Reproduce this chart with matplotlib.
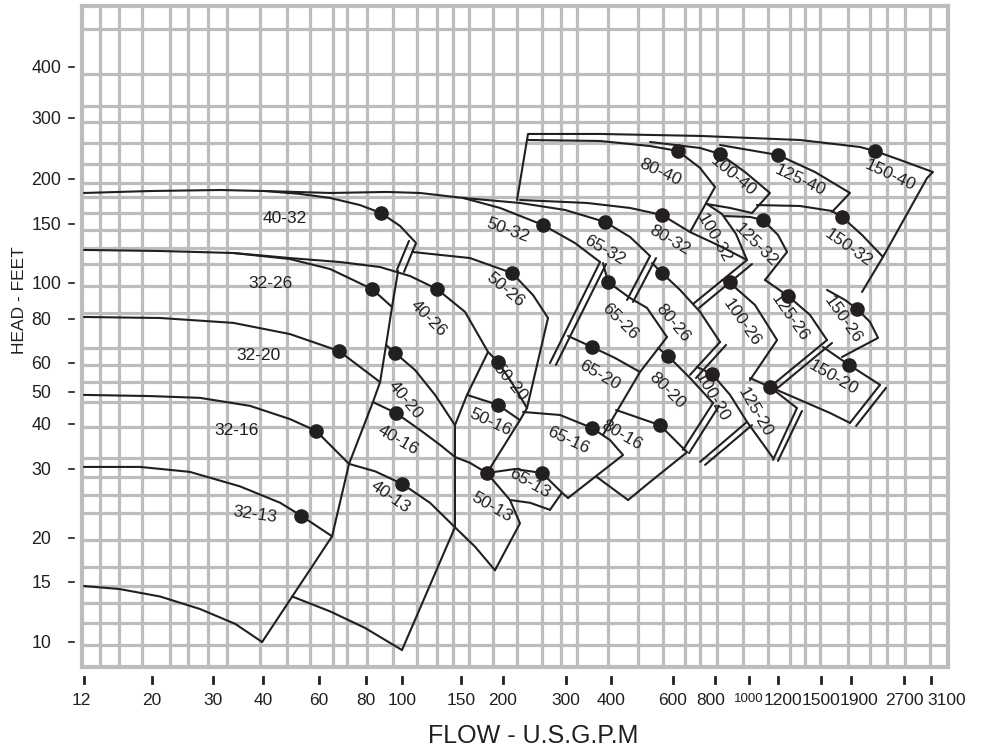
import numpy as np
import matplotlib
matplotlib.use("Agg")
import matplotlib.pyplot as plt
from matplotlib.transforms import blended_transform_factory, ScaledTranslation
from matplotlib.ticker import NullLocator

plt.rcParams['font.family'] = ['Liberation Sans', 'DejaVu Sans']

# ---------------- axis ticks ----------------
flow_ticks = [12, 20, 30, 40, 60, 80, 100, 150, 200, 300, 400, 600, 800,
              1000, 1200, 1500, 1900, 2700, 3100]
head_ticks = [10, 15, 20, 30, 40, 50, 60, 80, 100, 150, 200, 300, 400]

# ---------------- pump curves (flow USGPM, head ft) ----------------
# 32 / 40 series
q_32_13_bot = [12, 15.7, 21.1, 27.5, 34.1, 39.8]
h_32_13_bot = [14.6, 14.3, 13.6, 12.5, 11.3, 10.0]
q_32_13_top = [12, 18.3, 25.7, 35.0, 45.3, 52.7, 65.0]
h_32_13_top = [30.4, 30.4, 29.5, 27.1, 24.6, 22.8, 20.2]
q_32_16_top = [12, 19.7, 27.5, 37.1, 48.6, 58.7, 72.1]
h_32_16_top = [49.0, 48.6, 48.0, 45.4, 41.4, 38.3, 31.0]
q_32_20_top = [12, 21.1, 33.7, 48.6, 67.8, 87.3]
h_32_20_top = [81.0, 80.5, 78.0, 72.5, 64.9, 53.2]
q_32_26_top = [12, 21.1, 33.7, 48.6, 64.2, 83.1, 94.0]
h_32_26_top = [125.5, 124.6, 122.9, 117.9, 110.1, 96.3, 86.2]
q_40_26_top = [33.7, 48.6, 68.2, 87.3, 105.7, 127.2, 154.2, 180.5]
h_40_26_top = [122.9, 118.7, 115.5, 111.6, 104.9, 96.3, 83.6, 64.5]
q_40_32_top = [12, 19.7, 31.2, 40.6, 52.3, 64.2, 77.1, 87.8, 98.8, 109.4]
h_40_32_top = [182.9, 185.2, 186.4, 185.2, 181.8, 177.2, 169.3, 160.9, 148.0, 132.6]
q_32_edge = [39.8, 65.0, 72.1, 83.5, 87.3, 90.6, 94.0, 97.6]
h_32_edge = [10.0, 20.2, 31.0, 46.6, 53.2, 67.5, 86.2, 108.6]
q_40_32_edge_a = [104.9, 96.9]
h_40_32_edge_a = [133.5, 109.4]
q_40_32_edge_b = [110.1, 101.4]
h_40_32_edge_b = [131.6, 107.9]
q_40_20_top = [90.6, 95.8, 109.4, 125.5, 143.9]
h_40_20_top = [67.5, 64.1, 57.4, 49.0, 39.7]
q_40_16_top = [83.5, 96.3, 113.2, 129.9, 143.9]
h_40_16_top = [46.6, 43.2, 38.5, 35.0, 32.4]
q_40_13_top = [72.1, 84.6, 100, 121.2, 143.9]
h_40_13_top = [31.0, 29.6, 27.5, 24.6, 21.3]
q_40_13_bot = [49.4, 64.2, 79.5, 100]
h_40_13_bot = [13.6, 12.3, 11.0, 9.47]
q_40_edge = [100, 143.9, 143.9, 156.3, 180.5]
h_40_edge = [9.47, 21.3, 39.7, 49.0, 64.5]
# 50 series
q_50_20_top = [180.5, 193.3, 212.0, 233.4]
h_50_20_top = [64.5, 60.4, 52.9, 44.7]
q_50_26_top = [107.1, 159.5, 212.0, 242.6, 267.2]
h_50_26_top = [123.8, 118.7, 107.1, 92.8, 80.5]
q_50_edge = [267.2, 233.4, 223.1, 179.2]
h_50_edge = [80.5, 44.7, 41.1, 29.3]
q_50_16_top = [156.3, 193.3, 223.1]
h_50_16_top = [49.0, 45.7, 41.1]
q_50_13_top = [143.9, 159.5, 179.2]
h_50_13_top = [32.4, 31.2, 29.3]
q_50_13_side = [179.2, 209.2, 223.1, 189.3]
h_50_13_side = [29.3, 25.0, 21.8, 16.2]
q_50_13_bot = [143.9, 165.1, 189.3]
h_50_13_bot = [21.3, 18.9, 16.2]
q_50_32_top = [40.6, 64.2, 91.1, 113.2, 152.1, 196.0, 258.7, 317.8, 372.9]
h_50_32_top = [185.2, 182.9, 184.1, 182.9, 177.2, 166.2, 149.0, 131.6, 115.5]
q_50_32_edge_a = [372.9, 270.6]
h_50_32_edge_a = [115.5, 60.0]
q_50_32_edge_b = [387.5, 281.2]
h_50_32_edge_b = [113.9, 59.3]
# 65 series
q_65_13_top = [179.2, 216.1, 257.0, 292.4, 303.9]
h_65_13_top = [29.3, 30.0, 29.3, 26.1, 25.3]
q_65_13_side = [292.4, 270.6]
h_65_13_side = [26.1, 23.6]
q_65_13_bot = [209.2, 238.0, 270.6]
h_65_13_bot = [25.0, 24.6, 23.6]
q_65_16_top = [227.5, 288.6, 354.3, 397.5, 432.8, 303.9]
h_65_16_top = [43.5, 42.6, 39.0, 36.1, 32.8, 25.3]
q_65_20_top = [303.9, 354.3, 410.7, 483.6]
h_65_20_top = [71.6, 66.6, 62.0, 56.7]
q_65_26_top = [380.1, 392.5, 453.1, 506.1, 576.9]
h_65_26_top = [114.7, 100.7, 91.1, 85.7, 71.1]
q_65_edge = [576.9, 483.6, 380.1]
h_65_edge = [71.1, 56.7, 37.3]
q_65_32_top = [152.1, 223.1, 298.1, 385.0, 453.1, 516.4]
h_65_32_top = [177.2, 171.6, 164.1, 152.0, 137.2, 120.4]
q_65_32_edge_a = [516.4, 444.2]
h_65_32_edge_a = [120.4, 90.0]
q_65_32_edge_b = [537.0, 461.9]
h_65_32_edge_b = [118.7, 88.9]
# 80 series
q_80_40_top = [234.9, 372.9, 516.4, 621.0, 722.2, 800, 674.3]
h_80_40_top = [259.2, 257.5, 249.0, 240.9, 215.2, 190.0, 141.9]
q_80_32_top = [223.1, 343.1, 453.1, 558.4, 674.3, 826.8, 987.0]
h_80_32_top = [174.9, 171.6, 166.2, 158.9, 141.9, 128.9, 117.1]
q_80_32_edge_a = [987.0, 688.3]
h_80_32_edge_a = [117.1, 87.8]
q_80_32_edge_b = [1019, 717.2]
h_80_32_edge_b = [113.9, 85.7]
q_80_26_top = [523.1, 558.4, 629.6, 722.2, 826.8]
h_80_26_top = [114.7, 107.1, 95.8, 83.6, 68.8]
q_80_26_edge_a = [826.8, 674.3]
h_80_26_edge_a = [68.8, 55.7]
q_80_26_edge_b = [860.1, 702.5]
h_80_26_edge_b = [67.5, 54.6]
q_80_20_top = [543.9, 580.7, 674.3, 789.3]
h_80_20_top = [66.2, 62.8, 54.6, 46.3]
q_80_20_edge_a = [789.3, 642.6]
h_80_20_edge_a = [46.3, 33.9]
q_80_20_edge_b = [821.3, 669.6]
h_80_20_edge_b = [45.4, 33.2]
q_80_16_top = [413.4, 551.1, 660.5, 516.4, 447.2]
h_80_16_top = [44.1, 39.7, 33.4, 27.8, 25.0]
q_80_16_bot = [365.8, 447.2]
h_80_16_bot = [28.6, 25.0]
# 100 series
q_100_40_top = [516.4, 722.2, 826.8, 974.1, 1141, 1019]
h_100_40_top = [255.8, 245.8, 236.2, 209.5, 182.9, 160.9]
q_100_40_bot = [757.6, 883.2, 1019]
h_100_40_bot = [170.4, 166.2, 160.9]
q_100_32_top = [757.6, 837.6, 918.3, 987.0]
h_100_32_top = [170.4, 159.9, 140.0, 117.1]
q_100_26_top = [837.6, 883.2, 1038, 1193, 1006]
h_100_26_top = [102.1, 100, 87.3, 69.7, 53.9]
q_100_20_top = [707.4, 784.0, 883.2, 987.0]
h_100_20_top = [58.5, 56.0, 49.0, 40.6]
q_100_20_edge_a = [987.0, 722.2]
h_100_20_edge_a = [40.6, 31.4]
q_100_20_edge_b = [1019, 747.4]
h_100_20_edge_b = [39.7, 30.8]
# 125 series
q_125_40_top = [826.8, 1200, 1454, 1885, 1636]
h_125_40_top = [250.7, 234.6, 209.5, 182.9, 162.0]
q_125_32_top = [854.4, 1006, 1092, 1200, 1258, 1106]
h_125_32_top = [157.8, 156.9, 153.9, 139.1, 123.8, 102.1]
q_125_26_top = [1106, 1264, 1417, 1573]
h_125_26_top = [102.1, 92.3, 82.0, 69.7]
q_125_26_edge_a = [1573, 1141]
h_125_26_edge_a = [69.7, 51.6]
q_125_26_edge_b = [1636, 1178]
h_125_26_edge_b = [68.4, 50.6]
q_125_20_top = [1006, 1141, 1324]
h_125_20_top = [54.6, 51.6, 44.7]
q_125_20_edge_a = [1324, 1163]
h_125_20_edge_a = [44.7, 31.8]
q_125_20_edge_b = [1359, 1200]
h_125_20_edge_b = [43.8, 31.6]
q_125_20_bot = [987.0, 1163]
h_125_20_bot = [40.6, 32.2]
# 150 series
q_x40_outer = [218.9, 234.9, 372.9, 722.2, 1345, 2017, 2228, 2630, 3131, 3038, 2349, 2044]
h_x40_outer = [174.9, 269.8, 269.8, 266.3, 259.2, 247.4, 240.9, 227.0, 209.5, 201.3, 119.6, 94.6]
q_150_32_top = [1051, 1345, 1636, 1770, 2044, 2349]
h_150_32_top = [169.3, 168.3, 163.0, 156.9, 139.1, 119.6]
q_150_26_top = [1573, 1813, 1978, 2155, 2273, 1770]
h_150_26_top = [95.8, 90.0, 85.1, 78.5, 70.7, 62.4]
q_150_20_top = [1524, 1870, 2303]
h_150_20_top = [66.6, 59.3, 52.3]
q_150_20_edge_a = [2303, 1885]
h_150_20_edge_a = [52.3, 40.3]
q_150_20_edge_b = [2396, 1965]
h_150_20_edge_b = [51.3, 39.5]
q_150_20_bot = [1141, 1345, 1610, 1885]
h_150_20_bot = [51.6, 47.3, 43.2, 40.3]

# best efficiency points
dot_q = [52.7, 58.7, 67.8, 83.1, 87.8, 100, 96.3, 95.8, 127.2, 179.2, 193.3,
         193.3, 212.0, 258.7, 257.0, 354.3, 354.3, 392.5, 385.0, 551.1, 580.7,
         558.4, 558.4, 621.0, 784.0, 883.2, 826.8, 1141, 1264, 1092, 1200,
         1870, 1978, 1770, 2228]
dot_h = [22.8, 38.3, 64.9, 96.3, 160.9, 27.5, 43.2, 64.1, 96.3, 29.3, 45.7,
         60.4, 107.1, 149.0, 29.3, 39.0, 66.6, 100.7, 152.0, 39.7, 62.8,
         107.1, 158.9, 240.9, 56.0, 100.7, 236.2, 51.6, 92.3, 153.9, 234.6,
         59.3, 85.1, 156.9, 240.9]

# pump model labels
label_text = ["32-13", "32-16", "32-20", "32-26", "40-32", "40-13", "40-16",
              "40-20", "40-26", "50-13", "50-16", "50-20", "50-26", "50-32",
              "65-13", "65-16", "65-20", "65-26", "65-32", "80-16", "80-20",
              "80-26", "80-32", "80-40", "100-20", "100-26", "100-32", "100-40",
              "125-20", "125-26", "125-32", "125-40", "150-20", "150-26",
              "150-32", "150-40"]
label_q = [38.2, 34.4, 38.9, 42.1, 46.9, 92.8, 97.6, 102.1, 119.6, 185.5,
           183.0, 209.2, 202.6, 206.5, 238.0, 303.9, 372.9, 424.4, 385.0,
           429.9, 576.9, 600, 588.6, 551.1, 784.0, 955.2, 794.5, 900.7, 1038,
           1277, 1045, 1345, 1649, 1784, 1856, 2461]
label_h = [23.0, 38.3, 63.2, 99.4, 155.8, 25.4, 36.1, 47.3, 80.5, 23.9, 40.6,
           53.2, 95.8, 144.0, 27.6, 36.1, 55.7, 78.5, 125.5, 37.3, 50.6, 78.0,
           134.4, 209.5, 48.3, 78.0, 136.3, 204.0, 43.5, 80.5, 129.9, 198.8,
           54.6, 79.5, 127.2, 205.3]
label_rot = [-8, 0, 0, 0, 0, -35, -30, -50, -45, -30, -25, -50, -40, -20, -30,
             -25, -30, -45, -30, -30, -45, -50, -30, -25, -60, -55, -60, -40,
             -60, -55, -45, -25, -30, -55, -35, -25]

curves = [
    (q_32_13_bot, h_32_13_bot), (q_32_13_top, h_32_13_top),
    (q_32_16_top, h_32_16_top), (q_32_20_top, h_32_20_top),
    (q_32_26_top, h_32_26_top), (q_40_26_top, h_40_26_top),
    (q_40_32_top, h_40_32_top), (q_32_edge, h_32_edge),
    (q_40_32_edge_a, h_40_32_edge_a), (q_40_32_edge_b, h_40_32_edge_b),
    (q_40_20_top, h_40_20_top), (q_40_16_top, h_40_16_top),
    (q_40_13_top, h_40_13_top), (q_40_13_bot, h_40_13_bot),
    (q_40_edge, h_40_edge),
    (q_50_20_top, h_50_20_top), (q_50_26_top, h_50_26_top),
    (q_50_edge, h_50_edge), (q_50_16_top, h_50_16_top),
    (q_50_13_top, h_50_13_top), (q_50_13_side, h_50_13_side),
    (q_50_13_bot, h_50_13_bot), (q_50_32_top, h_50_32_top),
    (q_50_32_edge_a, h_50_32_edge_a), (q_50_32_edge_b, h_50_32_edge_b),
    (q_65_13_top, h_65_13_top), (q_65_13_side, h_65_13_side),
    (q_65_13_bot, h_65_13_bot), (q_65_16_top, h_65_16_top),
    (q_65_20_top, h_65_20_top), (q_65_26_top, h_65_26_top),
    (q_65_edge, h_65_edge), (q_65_32_top, h_65_32_top),
    (q_65_32_edge_a, h_65_32_edge_a), (q_65_32_edge_b, h_65_32_edge_b),
    (q_80_40_top, h_80_40_top), (q_80_32_top, h_80_32_top),
    (q_80_32_edge_a, h_80_32_edge_a), (q_80_32_edge_b, h_80_32_edge_b),
    (q_80_26_top, h_80_26_top), (q_80_26_edge_a, h_80_26_edge_a),
    (q_80_26_edge_b, h_80_26_edge_b), (q_80_20_top, h_80_20_top),
    (q_80_20_edge_a, h_80_20_edge_a), (q_80_20_edge_b, h_80_20_edge_b),
    (q_80_16_top, h_80_16_top), (q_80_16_bot, h_80_16_bot),
    (q_100_40_top, h_100_40_top), (q_100_40_bot, h_100_40_bot),
    (q_100_32_top, h_100_32_top), (q_100_26_top, h_100_26_top),
    (q_100_20_top, h_100_20_top), (q_100_20_edge_a, h_100_20_edge_a),
    (q_100_20_edge_b, h_100_20_edge_b),
    (q_125_40_top, h_125_40_top), (q_125_32_top, h_125_32_top),
    (q_125_26_top, h_125_26_top), (q_125_26_edge_a, h_125_26_edge_a),
    (q_125_26_edge_b, h_125_26_edge_b), (q_125_20_top, h_125_20_top),
    (q_125_20_edge_a, h_125_20_edge_a), (q_125_20_edge_b, h_125_20_edge_b),
    (q_125_20_bot, h_125_20_bot),
    (q_x40_outer, h_x40_outer), (q_150_32_top, h_150_32_top),
    (q_150_26_top, h_150_26_top), (q_150_20_top, h_150_20_top),
    (q_150_20_edge_a, h_150_20_edge_a), (q_150_20_edge_b, h_150_20_edge_b),
    (q_150_20_bot, h_150_20_bot),
]

# ---------------- layout (pixel geometry of the printed chart paper) --------
FIG_W, FIG_H = 987, 753
AX_L, AX_R, AX_T, AX_B = 82, 948, 6, 667
FLOW_TICK_PX = [84, 152, 213, 263, 319, 366, 402, 461, 503, 566, 611, 673,
                715, 749, 778, 821, 851, 904, 931]
HEAD_TICK_PX = [642, 582, 538, 469, 424, 392, 363, 319, 283, 224, 179, 118, 67]
GRID_X_PX = [100, 119, 142, 170, 188, 208, 227, 260, 287, 310, 333, 347, 367,
             393, 417, 437, 453, 469, 493, 517, 542, 561, 577, 608, 638, 663,
             685, 700, 717, 743, 768, 790, 805, 820, 848, 870, 887, 905, 930]
GRID_Y_PX = [29, 74, 106, 122, 143, 164, 183, 197, 213, 230, 248, 264, 286,
             313, 348, 365, 382, 402, 427, 458, 477, 495, 513, 540, 567, 586,
             603, 623, 645]
INK = '#231f20'
GRID_C = '#bcbdc0'


def paper_scale(vals, px):
    lv = np.log10(np.asarray(vals, float))
    p = np.asarray(px, float)
    s0 = (p[1] - p[0]) / (lv[1] - lv[0])
    s1 = (p[-1] - p[-2]) / (lv[-1] - lv[-2])
    lv_e = np.r_[lv[0] - 4, lv, lv[-1] + 4]
    p_e = np.r_[p[0] - 4 * s0, p, p[-1] + 4 * s1]

    def fwd(x):
        x = np.asarray(x, float)
        lx = np.log10(np.where(x > 0, x, 1e-12))
        return np.interp(lx, lv_e, p_e)

    def inv(v):
        return 10 ** np.interp(np.asarray(v, float), p_e, lv_e)
    return fwd, inv


fx, ix = paper_scale(flow_ticks, FLOW_TICK_PX)
fy, iy = paper_scale(head_ticks, [-p for p in HEAD_TICK_PX])

fig = plt.figure(figsize=(FIG_W / 100, FIG_H / 100), dpi=100)
fig.patch.set_facecolor('white')
ax = fig.add_axes([AX_L / FIG_W, (FIG_H - AX_B) / FIG_H,
                   (AX_R - AX_L) / FIG_W, (AX_B - AX_T) / FIG_H])
ax.set_xscale('function', functions=(fx, ix))
ax.set_yscale('function', functions=(fy, iy))

# paper grid
for gx in GRID_X_PX:
    f = (gx - AX_L) / (AX_R - AX_L)
    ax.plot([f, f], [0, 1], transform=ax.transAxes, color=GRID_C, lw=2.3,
            zorder=0.5, solid_capstyle='butt')
for gy in GRID_Y_PX:
    f = (AX_B - gy) / (AX_B - AX_T)
    ax.plot([0, 1], [f, f], transform=ax.transAxes, color=GRID_C, lw=2.3,
            zorder=0.5, solid_capstyle='butt')
for s in ax.spines.values():
    s.set_color(GRID_C)
    s.set_linewidth(3)

for q, h in curves:
    ax.plot(q, h, color=INK, lw=1.5, zorder=3, solid_joinstyle='round',
            solid_capstyle='round')
ax.plot(dot_q, dot_h, 'o', ms=9.5, color=INK, zorder=4)
for t, q, h, r in zip(label_text, label_q, label_h, label_rot):
    ax.text(q, h, t, rotation=r, rotation_mode='anchor', ha='center',
            va='center', fontsize=12.5, color=INK, zorder=5)

ax.set_xlim(ix(AX_L), ix(AX_R))
ax.set_ylim(iy(-AX_B), iy(-AX_T))

# x ticks
ax.set_xticks(flow_ticks)
ax.set_xticklabels([str(v) for v in flow_ticks])
ax.xaxis.set_minor_locator(NullLocator())
ax.tick_params(axis='x', length=0, pad=19, labelsize=12.5, labelcolor=INK)
xoff = {12: -3, 800: -4, 1200: 5, 1900: 8, 3100: 16}
for v, lab in zip(flow_ticks, ax.get_xticklabels()):
    if v in xoff:
        lab.set_transform(lab.get_transform() +
                          ScaledTranslation(xoff[v] / 100, 0,
                                            fig.dpi_scale_trans))
    if v == 1000:
        lab.set_fontsize(9.5)
bx = blended_transform_factory(ax.transData, ax.transAxes)
y0 = (AX_B - 677) / (AX_B - AX_T)
y1 = (AX_B - 683) / (AX_B - AX_T)
for v in flow_ticks:
    ax.plot([v, v], [y0, y1], transform=bx, clip_on=False, color=INK, lw=2)

# y ticks
ax.set_yticks(head_ticks)
ax.set_yticklabels([str(v) for v in head_ticks])
ax.yaxis.set_minor_locator(NullLocator())
ax.tick_params(axis='y', length=0, pad=36.5, labelsize=12.8, labelcolor=INK)
for lab in ax.get_yticklabels():
    lab.set_horizontalalignment('left')
by = blended_transform_factory(ax.transAxes, ax.transData)
x0 = (69 - AX_L) / (AX_R - AX_L)
x1 = (74 - AX_L) / (AX_R - AX_L)
for v in head_ticks:
    ax.plot([x0, x1], [v, v], transform=by, clip_on=False, color=INK, lw=1.2)

fig.text(20 / FIG_W, 1 - 300 / FIG_H, 'HEAD - FEET', rotation=90,
         ha='center', va='center', fontsize=12.5, color=INK)
fig.text(533 / FIG_W, 1 - 736 / FIG_H, 'FLOW - U.S.G.P.M', ha='center',
         va='center', fontsize=18, color=INK)

fig.savefig('out.png', dpi=100, facecolor='white')
